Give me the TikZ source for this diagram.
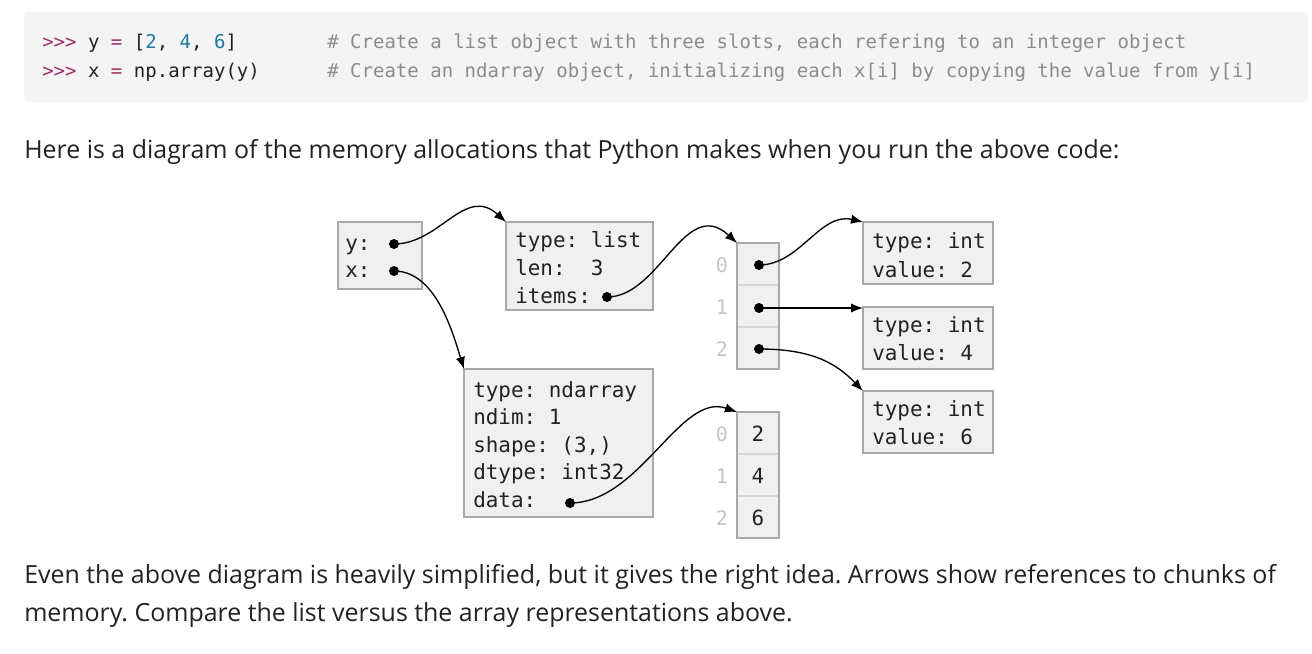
\documentclass[tikz,border=0pt]{standalone}
\usepackage{fontspec}
\setmainfont{Open Sans}
\newfontfamily\monofont{DejaVu Sans Mono}
\usetikzlibrary{arrows.meta,fit}
\frenchspacing

\definecolor{codebg}{HTML}{F4F4F4}
\definecolor{prompt}{HTML}{A0306A}
\definecolor{num}{HTML}{1F7AA0}
\definecolor{comment}{HTML}{8C8C8C}
\definecolor{ink}{HTML}{222222}
\definecolor{boxfill}{HTML}{F0F0F0}
\definecolor{boxline}{HTML}{A8A8A8}
\definecolor{cellline}{HTML}{D6D6D6}
\definecolor{idxgray}{HTML}{C4C4C4}

\tikzset{
  code/.style={font=\monofont\fontsize{14.27}{17}\selectfont, anchor=base west, inner sep=0pt, text=ink},
  body/.style={font=\fontsize{18.7}{22}\selectfont, anchor=base west, inner sep=0pt, text=ink},
  mem/.style={font=\monofont\fontsize{15.7}{18}\selectfont, anchor=base west, inner sep=0pt, text=ink},
  idx/.style={font=\monofont\fontsize{15}{18}\selectfont, anchor=base, inner sep=0pt, text=idxgray},
  cellval/.style={font=\monofont\fontsize{15.7}{18}\selectfont, anchor=base, inner sep=0pt, text=ink},
  membox/.style={draw=boxline, fill=boxfill, line width=2.2pt, inner sep=0pt, outer sep=0pt},
  cellcol/.style={fill=boxfill, inner sep=0pt, outer sep=0pt},
  outline/.style={draw=boxline, line width=2.2pt},
  divider/.style={draw=cellline, line width=1.6pt},
  refdot/.style={circle, fill=black, inner sep=0pt, minimum size=7.5pt},
  pointer/.style={-{Latex[length=9pt,width=7pt]}, line width=1pt, black},
}

\begin{document}
\begin{tikzpicture}[x=0.75pt,y=-0.75pt]
\useasboundingbox[fill=white] (0,0) rectangle (1312,653);

% code listing
\fill[codebg, rounded corners=3pt] (24,12) rectangle (1308,102);
\node[code] (c1) at (42,48) {\textcolor{prompt}{>>>} y \textcolor{prompt}{=} [\textcolor{num}{2}, \textcolor{num}{4}, \textcolor{num}{6}]};
\node[code] (c2) at (42,77) {\textcolor{prompt}{>>>} x \textcolor{prompt}{=} np.array(y)};
\node[code, text=comment] (m1) at (327,48) {\# Create a list object with three slots, each refering to an integer object};
\node[code, text=comment] (m2) at (327,77) {\# Create an ndarray object, initializing each x[i] by copying the value from y[i]};

% prose
\node[body] (p1) at (24,158) {Here is a diagram of the memory allocations that Python makes when you run the above code:};
\node[body] (p2) at (24,583) {Even the above diagram is heavily simplified, but it gives the right idea. Arrows show references to chunks of};
\node[body] (p3) at (24,621) {memory. Compare the list versus the array representations above.};

% namespace with the two names
\node[membox, fit={(338,222) (422,289)}] (vars) {};
\node[mem] (ylab) at (345,250) {y:};
\node[mem] (xlab) at (345,277) {x:};
\node[refdot] (ydot) at (394,244) {};
\node[refdot] (xdot) at (394,271) {};

% list object
\node[membox, fit={(506,222) (653,310)}] (list) {};
\node[mem] (l1) at (515,247) {type: list};
\node[mem] (l2) at (515,275) {len:\ \ 3};
\node[mem] (l3) at (515,303) {items:};
\node[refdot] (itemsdot) at (607,297) {};

% array of references held by the list
\node[cellcol, fit={(737,243) (779,369)}] (refarr) {};
\draw[divider] (738,285) -- (778,285);
\draw[divider] (738,327) -- (778,327);
\draw[outline] (refarr.north west) rectangle (refarr.south east);
\node[idx] (ri0) at (722,272) {0};
\node[idx] (ri1) at (722,314) {1};
\node[idx] (ri2) at (722,356) {2};
\node[refdot] (r0) at (759,265) {};
\node[refdot] (r1) at (759,308) {};
\node[refdot] (r2) at (759,349) {};

% integer objects
\node[membox, fit={(863,222) (993,284)}] (int1) {};
\node[mem] (i1a) at (872,248) {type: int};
\node[mem] (i1b) at (872,277) {value: 2};
\node[membox, fit={(863,307) (993,369)}] (int2) {};
\node[mem] (i2a) at (872,332) {type: int};
\node[mem] (i2b) at (872,360) {value: 4};
\node[membox, fit={(863,391) (993,453)}] (int3) {};
\node[mem] (i3a) at (872,416) {type: int};
\node[mem] (i3b) at (872,444) {value: 6};

% ndarray object
\node[membox, fit={(464,369) (653,517)}] (nd) {};
\node[mem] (n1) at (473,397) {type: ndarray};
\node[mem] (n2) at (473,424) {ndim: 1};
\node[mem] (n3) at (473,452) {shape: (3,)};
\node[mem] (n4) at (473,479) {dtype: int32};
\node[mem] (n5) at (473,507) {data:};
\node[refdot] (datadot) at (570,503) {};

% raw data buffer of the ndarray
\node[cellcol, fit={(737,412) (779,538)}] (buf) {};
\draw[divider] (738,454) -- (778,454);
\draw[divider] (738,496) -- (778,496);
\draw[outline] (buf.north west) rectangle (buf.south east);
\node[idx] (bi0) at (722,441) {0};
\node[idx] (bi1) at (722,483) {1};
\node[idx] (bi2) at (722,525) {2};
\node[cellval] (b0) at (758,441) {2};
\node[cellval] (b1) at (758,483) {4};
\node[cellval] (b2) at (758,525) {6};

% references
\draw[pointer] (ydot.center) .. controls (440,244) and (465,185) .. (list.north west);
\draw[pointer] (xdot.center) .. controls (435,271) and (452,330) .. (nd.north west);
\draw[pointer] (itemsdot.center) .. controls (660,297) and (685,195) .. (refarr.north west);
\draw[pointer] (r0.center) .. controls (800,265) and (820,212) .. (int1.north west);
\draw[pointer] (r1.center) -- (r1.center -| int2.north west);
\draw[pointer] (r2.center) .. controls (810,349) and (835,362) .. (int3.north west);
\draw[pointer] (datadot.center) .. controls (640,503) and (680,392) .. (buf.north west);
\end{tikzpicture}
\end{document}
